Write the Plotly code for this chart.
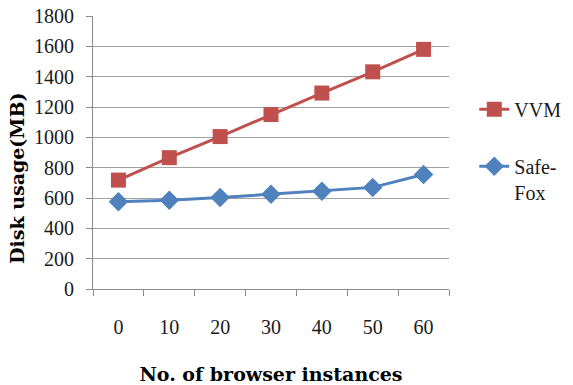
import plotly.graph_objects as go

categories = ["0", "10", "20", "30", "40", "50", "60"]
vvm = [718, 866, 1005, 1150, 1292, 1432, 1580]
safefox = [575, 585, 603, 625, 645, 670, 755]
y_ticks = [0, 200, 400, 600, 800, 1000, 1200, 1400, 1600, 1800]

RED = "#C0504D"
BLUE = "#4F81BD"
GRID = "#a0a0a0"
AXIS = "#8c8c8c"
SERIF = "Liberation Serif"
TITLE = "DejaVu Serif"

fig = go.Figure()
fig.add_trace(go.Scatter(
    x=categories, y=vvm, name="VVM", mode="lines+markers",
    line=dict(color=RED, width=3),
    marker=dict(symbol="square", size=15, color=RED),
    legendgroup="a",
))
fig.add_trace(go.Scatter(
    x=categories, y=safefox, name="Safe-<br>Fox", mode="lines+markers",
    line=dict(color=BLUE, width=3),
    marker=dict(symbol="diamond", size=15, color=BLUE),
    legendgroup="b",
))

fig.add_annotation(
    text="Disk usage(MB)", textangle=-90,
    xref="paper", yref="paper", x=-0.2135, y=0.4066,
    xanchor="center", yanchor="middle", showarrow=False,
    font=dict(family=TITLE, size=19, color="black", weight="bold"),
)

fig.update_layout(
    width=573, height=385,
    margin=dict(l=93, r=124, t=16, b=96, autoexpand=False),
    plot_bgcolor="white", paper_bgcolor="white",
    font=dict(family=SERIF, size=20, color="#1a1a1a"),
    legend=dict(
        x=1.071, y=0.73, xanchor="left", yanchor="top",
        font=dict(family=SERIF, size=20, color="#1a1a1a"),
        tracegroupgap=28, valign="top",
        bgcolor="rgba(0,0,0,0)",
    ),
    xaxis=dict(
        type="category", tickson="boundaries", automargin=False,
        ticks="outside", ticklen=6, tickcolor=AXIS, tickwidth=1,
        showline=True, linecolor=AXIS, linewidth=1,
        showgrid=False, ticklabelstandoff=20,
        tickfont=dict(family=SERIF, size=20),
        range=[-0.5, 6.5],
        title=dict(text="No. of browser instances",
                   font=dict(family=TITLE, size=19, color="black", weight="bold"),
                   standoff=38),
    ),
    yaxis=dict(
        range=[0, 1800], tickvals=y_ticks, automargin=False,
        ticks="outside", ticklen=6, tickcolor=AXIS,
        showline=True, linecolor=AXIS, linewidth=1,
        showgrid=True, gridcolor=GRID, gridwidth=1,
        zeroline=False, ticklabelstandoff=8,
        tickfont=dict(family=SERIF, size=20),
    ),
)

fig.write_html("out.html")
